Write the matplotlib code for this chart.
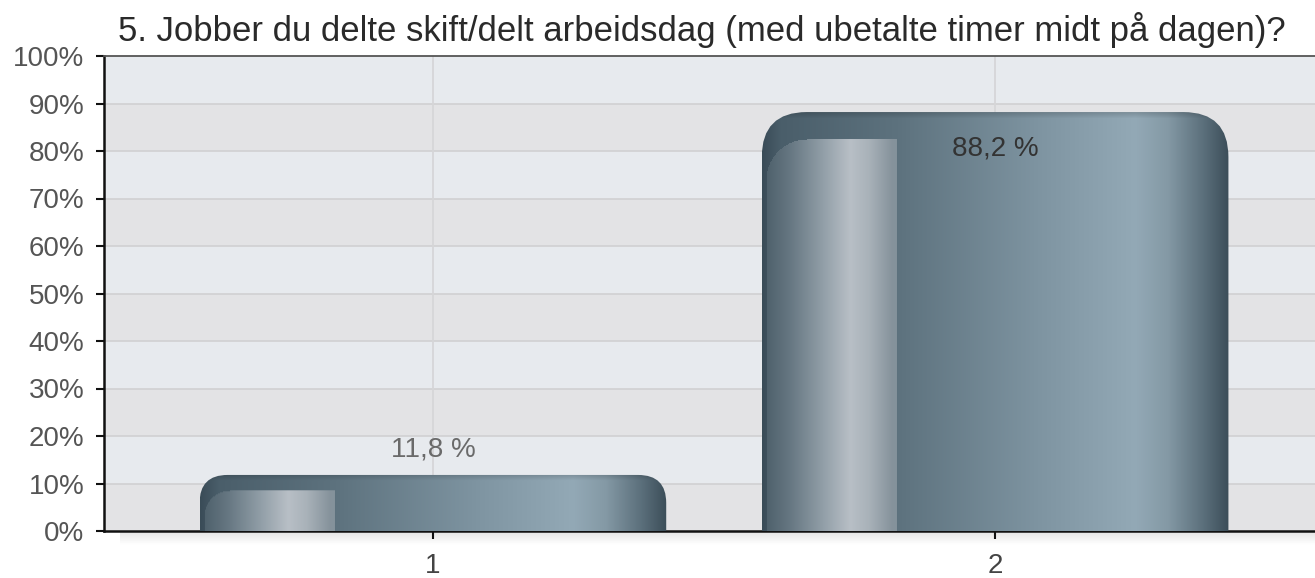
import numpy as np
import matplotlib
matplotlib.use("Agg")
import matplotlib.pyplot as plt
from matplotlib.path import Path
from matplotlib.patches import PathPatch
from matplotlib.colors import to_rgb

# === Data ===
categories = ["1", "2"]
values = [11.8, 88.2]
value_labels = ["11,8 %", "88,2 %"]
title = "5. Jobber du delte skift/delt arbeidsdag (med ubetalte timer midt på dagen)?"
yticks = list(range(0, 101, 10))

plt.rcParams["font.family"] = ["Liberation Sans", "DejaVu Sans"]

W, H, DPI = 1315, 578, 100
fig = plt.figure(figsize=(W / DPI, H / DPI), dpi=DPI)
ax = fig.add_axes([104 / W, 47 / H, (1315 - 104) / W, 475 / H])

x = np.arange(1, len(categories) + 1)
ax.set_xlim(0.415, 2.569)
ax.set_ylim(0, 100)

# === Background bands + grid ===
for i, lo in enumerate(range(0, 100, 10)):
    ax.axhspan(lo, lo + 10, color="#e3e3e5" if i % 2 == 0 else "#e7eaee", zorder=0, lw=0)
for t in yticks[1:-1]:
    ax.axhline(t, color="#d2d2d4", lw=1.3, zorder=1)
for xc in x:
    ax.axvline(xc, color="#d6d6d8", lw=1.3, zorder=1)

# === Bar gradients ===
def grad(stops, n, span=1.0):
    pos = np.array([s[0] for s in stops]) / span
    cols = np.array([to_rgb(s[1]) for s in stops])
    t = np.linspace(0, 1, n)
    return np.stack([np.interp(t, pos, cols[:, k]) for k in range(3)], axis=1)

base_stops = [(0.0, "#3a4c57"), (0.04, "#4a5e6a"), (0.29, "#5d727e"),
              (0.60, "#7f95a2"), (0.80, "#93a9b6"), (0.87, "#8499a5"),
              (0.95, "#596d79"), (1.0, "#3c4e59")]
panel_stops = [(0.0, "#4a5d68"), (0.06, "#667782"), (0.13, "#919ea7"),
               (0.19, "#b8bfc6"), (0.23, "#a9b2b9"), (0.28, "#86939c"),
               (0.29, "#84929b")]

bar_w = 0.83
to_px = ax.transData.transform
px_per_x = to_px((1, 0))[0] - to_px((0, 0))[0]
px_per_y = to_px((0, 1))[1] - to_px((0, 0))[1]

for xc, v, lab in zip(x, values, value_labels):
    x0, x1 = xc - bar_w / 2, xc + bar_w / 2
    wpx = int(round(bar_w * px_per_x))
    hpx = max(int(round(v * px_per_y)), 2)
    r = min(45, hpx / 2)
    rx, ry = r / px_per_x, r / px_per_y

    img = np.tile(grad(base_stops, wpx)[None, :, :], (hpx, 1, 1))
    # inner highlight panel on the left
    pan = grad(panel_stops, int(wpx * 0.29), span=0.29)
    off = int(0.6 * r)
    pr = 0.9 * r
    cx0 = int(wpx * 0.012)
    for row in range(off, hpx):
        dy = row - off
        start = cx0
        if dy < pr:
            start = cx0 + int(pr - np.sqrt(max(pr ** 2 - (pr - dy) ** 2, 0)))
        end = pan.shape[0]
        if start < end:
            img[row, start:end] = pan[start:end]
    # slight darkening at the very top edge
    fade = np.clip(np.arange(hpx) / 6.0, 0, 1)
    img = img * (0.85 + 0.15 * fade)[:, None, None]

    verts = [(x0, 0), (x0, v - ry), (x0, v), (x0 + rx, v), (x1 - rx, v),
             (x1, v), (x1, v - ry), (x1, 0), (x0, 0)]
    codes = [Path.MOVETO, Path.LINETO, Path.CURVE3, Path.CURVE3, Path.LINETO,
             Path.CURVE3, Path.CURVE3, Path.LINETO, Path.CLOSEPOLY]
    clip = PathPatch(Path(verts, codes), transform=ax.transData,
                     facecolor="none", edgecolor="none")
    ax.add_patch(clip)
    im = ax.imshow(img, extent=(x0, x1, 0, v), origin="upper", aspect="auto",
                   interpolation="bilinear", zorder=3)
    im.set_clip_path(clip)

    if v < 50:
        ax.text(xc, v + 5.4, lab, ha="center", va="center", fontsize=20,
                color="#6a6a6a", zorder=5)
    else:
        ax.text(xc, v - 7.6, lab, ha="center", va="center", fontsize=20,
                color="#333333", zorder=5)

# === Axes styling ===
ax.set_xticks(x)
ax.set_xticklabels(categories, fontsize=20, color="#444444")
ax.set_yticks(yticks)
ax.set_yticklabels([f"{t}%" for t in yticks], fontsize=20, color="#555555")
ax.tick_params(axis="both", direction="out", length=6, width=1.5, color="#111111")
ax.tick_params(axis="x", pad=10)
ax.tick_params(axis="y", pad=8)
for side in ["left", "bottom"]:
    ax.spines[side].set_linewidth(1.8)
    ax.spines[side].set_color("#111111")
ax.spines["top"].set_linewidth(1.3)
ax.spines["top"].set_color("#555555")
ax.spines["right"].set_visible(False)

# shadow under the x axis
sh = fig.add_axes([120 / W, (47 - 14) / H, (1315 - 120) / W, 13 / H], zorder=-1)
sh.imshow(np.linspace(0.90, 1.0, 20)[:, None] * np.ones((1, 10)), cmap="gray",
          vmin=0, vmax=1, aspect="auto", extent=(0, 1, 0, 1))
sh.axis("off")

fig.text(702 / W, 1 - 30 / H, title, ha="center", va="center", fontsize=25,
         color="#2a2a2a")

fig.savefig("out.png", dpi=DPI)
